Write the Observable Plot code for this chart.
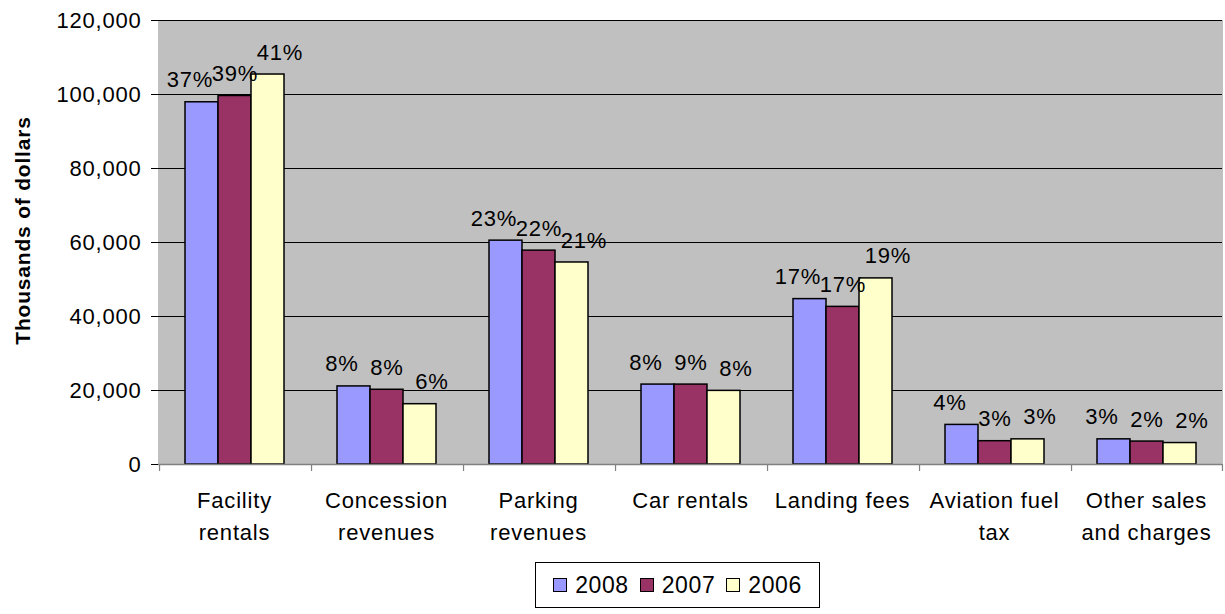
<!DOCTYPE html>
<html>
<head>
<meta charset="utf-8">
<script src="https://cdn.jsdelivr.net/npm/d3@7"></script>
<script src="https://cdn.jsdelivr.net/npm/@observablehq/plot@0.6"></script>
<style>
  body { margin: 0; background: #fff; font-family: "Liberation Sans", Arial, sans-serif; }
  #chart svg { overflow: visible; display: block; }
  #legend { margin-left: 535px; margin-top: 12px; width: 283px; height: 44px; border: 1px solid #000;
    display: flex; align-items: center; justify-content: center; gap: 11px; font-size: 23px; letter-spacing: 0.6px; color: #000; }
  #legend .item { display: flex; align-items: center; gap: 8px; }
  #legend .sw { width: 14px; height: 14px; border: 1.5px solid #000; box-sizing: border-box; }
</style>
</head>
<body>
<div id="chart"></div>
<div id="legend"></div>
<script>
const categories = ["Facility rentals", "Concession revenues", "Parking revenues", "Car rentals", "Landing fees", "Aviation fuel tax", "Other sales and charges"];
const categoryLabels = ["Facility\nrentals", "Concession\nrevenues", "Parking\nrevenues", "Car rentals", "Landing fees", "Aviation fuel\ntax", "Other sales\nand charges"];
const years = ["2008", "2007", "2006"];
const values2008 = [97900, 21100, 60500, 21600, 44700, 10700, 6800];
const values2007 = [99600, 20200, 57800, 21600, 42600, 6300, 6200];
const values2006 = [105400, 16300, 54600, 19900, 50300, 6800, 5800];
const pct2008 = [37, 8, 23, 8, 17, 4, 3];
const pct2007 = [39, 8, 22, 9, 17, 3, 2];
const pct2006 = [41, 6, 21, 8, 19, 3, 2];
const yTicks = [0, 20000, 40000, 60000, 80000, 100000, 120000];
const colors = ["#9999FF", "#993366", "#FFFFCC"];

const valuesByYear = [values2008, values2007, values2006];
const pctByYear = [pct2008, pct2007, pct2006];
const data = [];
years.forEach((yr, j) => categories.forEach((c, i) => data.push({cat: c, year: yr, value: valuesByYear[j][i], pct: pctByYear[j][i]})));

const W = 1225, ML = 155, MR = 0;
const outer = 0.75;
const step = (W - ML - MR) / categories.length / (years.length + 2 * outer);
const labelDx = [-12, 0, 12];

const marks = [
  Plot.frame({fill: "#c0c0c0", stroke: "#c0c0c0"}),
  Plot.ruleY(yTicks.filter(t => t > 0), {y: d => d, stroke: "#000", strokeWidth: 1}),
  Plot.barY(data, {fx: "cat", x: "year", y: "value", fill: "year", stroke: "#000", strokeWidth: 1.5}),
  Plot.ruleY([0], {stroke: "#808080", strokeWidth: 1.5}),
  Plot.ruleX(categories.map(c => ({cat: c})), {fx: "cat", x: () => years[0], dx: -(0.5 + outer) * step, y1: 0, y2: -1900, stroke: "#808080", strokeWidth: 1.2}),
  Plot.ruleX([{cat: categories[categories.length - 1]}], {fx: "cat", x: () => years[years.length - 1], dx: (0.5 + outer) * step, y1: 0, y2: -1900, stroke: "#808080", strokeWidth: 1.2}),
  Plot.text(categories.map((c, i) => ({cat: c, label: categoryLabels[i]})), {fx: "cat", text: "label", frameAnchor: "bottom", lineAnchor: "top", dy: 21, lineHeight: 1.45, fill: "#000"}),
  Plot.text([{cat: categories[0]}], {fx: "cat", text: () => "Thousands of dollars", frameAnchor: "left", textAnchor: "middle", rotate: -90, dx: -135, dy: -12, fontWeight: "bold", fill: "#000", fontSize: 21, style: "letter-spacing:1.5px"})
];
years.forEach((yr, j) => {
  marks.push(Plot.text(data.filter(d => d.year === yr), {fx: "cat", x: "year", y: "value", text: d => d.pct + "%", dy: -22, dx: labelDx[j], fill: "#000"}));
});

const chart = Plot.plot({
  width: W,
  height: 550,
  marginLeft: ML,
  marginRight: MR,
  marginTop: 20,
  marginBottom: 86,
  style: {fontSize: "22px", fontFamily: "'Liberation Sans', Arial, sans-serif", color: "#000", background: "#fff", letterSpacing: "0.8px"},
  fx: {domain: categories, padding: 0, axis: null, label: null},
  x: {domain: years, paddingInner: 0, paddingOuter: outer, axis: null},
  y: {domain: [0, 120000], ticks: yTicks, tickFormat: d3.format(","), tickSize: 7, tickPadding: 10, line: true, label: null},
  color: {domain: years, range: colors},
  marks
});
document.getElementById("chart").appendChild(chart);

const legend = document.getElementById("legend");
years.forEach((yr, j) => {
  const item = document.createElement("div");
  item.className = "item";
  const sw = document.createElement("div");
  sw.className = "sw";
  sw.style.background = colors[j];
  const t = document.createElement("span");
  t.textContent = yr;
  item.appendChild(sw);
  item.appendChild(t);
  legend.appendChild(item);
});
</script>
</body>
</html>
